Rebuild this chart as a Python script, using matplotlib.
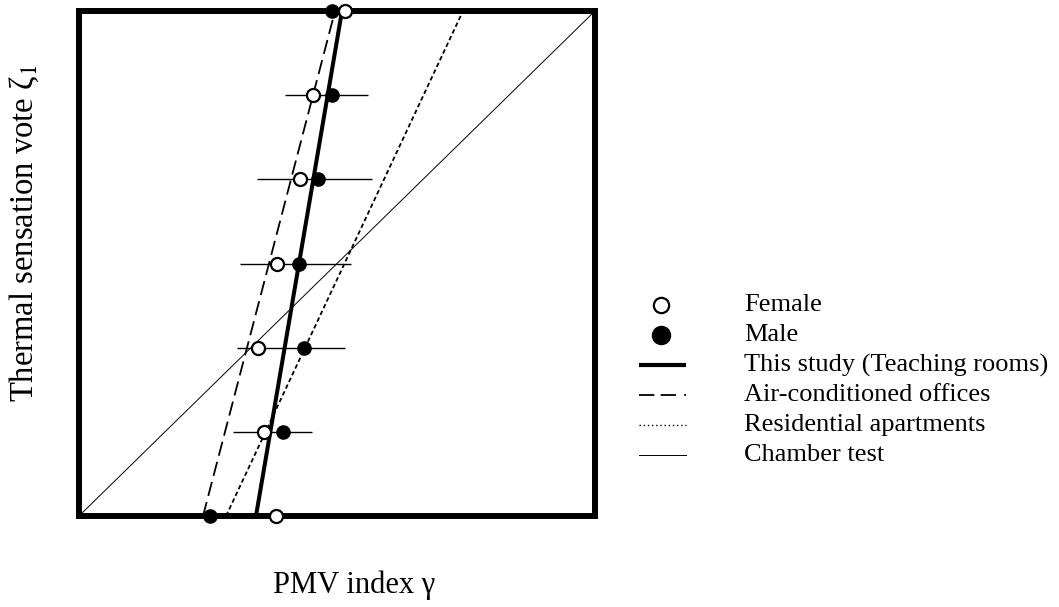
import matplotlib
matplotlib.use("Agg")
import matplotlib.pyplot as plt
from matplotlib.lines import Line2D

plt.rcParams['font.family'] = ['Liberation Serif', 'DejaVu Serif']
plt.rcParams['mathtext.fontset'] = 'stix'

# ---- data (axes span -3..3 on both scales) ----
levels = [3, 2, 1, 0, -1, -2, -3]
female_x = [0.093, -0.279, -0.430, -0.698, -0.919, -0.849, -0.709]
male_x = [-0.058, -0.058, -0.221, -0.442, -0.384, -0.628, -1.477]
err_levels = [2, 1, 0, -1, -2]
err_lo = [-0.605, -0.930, -1.128, -1.163, -1.209]
err_hi = [0.360, 0.407, 0.163, 0.093, -0.291]

line_y = [-3, 3]
this_study_x = [-0.942, 0.058]
aircon_x = [-1.558, -0.023]
resid_x = [-1.29, 1.465]
chamber_x = [-3, 3]

legend_labels = ["Female", "Male", "This study (Teaching rooms)",
                 "Air-conditioned offices", "Residential apartments", "Chamber test"]

W, H = 1059, 607
fig = plt.figure(figsize=(W / 100, H / 100), dpi=100)
L, R, T, B = 79, 595, 11, 516
ax = fig.add_axes([L / W, 1 - B / H, (R - L) / W, (B - T) / H])
ax.set_xlim(-3, 3)
ax.set_ylim(-3, 3)
ax.set_xticks([])
ax.set_yticks([])
for s in ax.spines.values():
    s.set_linewidth(4.3)
    s.set_zorder(3)

ax.plot(chamber_x, line_y, color='black', lw=0.7, zorder=2)
ax.plot(resid_x, line_y, color='black', lw=1.3, dashes=(2.5, 1.6), zorder=2)
ax.plot(aircon_x, line_y, color='black', lw=1.3, dashes=(8, 3.5), zorder=2)
ax.plot(this_study_x, line_y, color='black', lw=2.9, zorder=2, solid_capstyle='butt')

ax.hlines(err_levels, err_lo, err_hi, color='black', lw=1.0, zorder=2)

ax.plot(male_x, levels, 'o', ms=9.4, mfc='black', mec='black', mew=1.1,
        zorder=5, clip_on=False)
ax.plot(female_x, levels, 'o', ms=9.4, mfc='white', mec='black', mew=1.6,
        zorder=6, clip_on=False)

# ---- legend (manual layout in pixel positions) ----
def fx(px):
    return px / W

def fy(py):
    return 1 - py / H

rows = [305, 335, 365, 395, 425, 455]
handles = [
    dict(marker='o', ms=11, mfc='white', mec='black', mew=1.6, ls='none'),
    dict(marker='o', ms=13, mfc='black', mec='black', mew=1.0, ls='none'),
    dict(lw=3.0, color='black', solid_capstyle='butt'),
    dict(lw=1.3, color='black', dashes=(8.5, 3.5, 8.5, 4.5, 1.2, 20)),
    dict(lw=1.0, color='black', dashes=(1, 2)),
    dict(lw=0.7, color='black'),
]
for i, (lab, hs, ry) in enumerate(zip(legend_labels, handles, rows)):
    if i < 2:
        fig.add_artist(Line2D([fx(661)], [fy(ry)], transform=fig.transFigure, **hs))
    else:
        fig.add_artist(Line2D([fx(639), fx(686)], [fy(ry), fy(ry)],
                              transform=fig.transFigure, **hs))
    fig.text(fx(744), fy(ry), lab, fontsize=19, ha='left', va='center')

fig.text(fx(273), fy(593), "PMV index γ", fontsize=22, ha='left', va='baseline')
fig.text(fx(24), fy(402), "Thermal sensation vote ζ$_1$", fontsize=23.5,
         rotation=90, ha='center', va='bottom')

fig.savefig("out.png", dpi=100)
